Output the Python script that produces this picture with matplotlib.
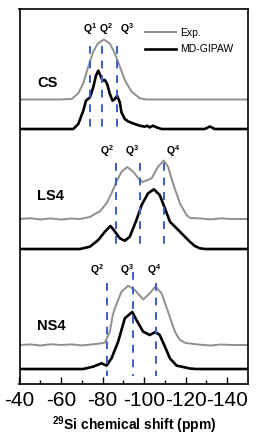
import matplotlib
matplotlib.use("Agg")
import matplotlib.pyplot as plt
import numpy as np

plt.rcParams['font.family'] = ['Liberation Sans', 'DejaVu Sans']
plt.rcParams['axes.unicode_minus'] = False
plt.rcParams['mathtext.fontset'] = 'custom'
plt.rcParams['mathtext.rm'] = 'Liberation Sans'
plt.rcParams['mathtext.bf'] = 'Liberation Sans:bold'
plt.rcParams['mathtext.it'] = 'Liberation Sans:italic'

# ---------------- data (ppm, intensity) ----------------
samples = ["CS", "LS4", "NS4"]

cs_exp_ppm = [-40, -59.5, -65.1, -68.3, -70.7, -73.1, -75.5, -77.7, -80.6, -83.5, -85.9, -88.3,
              -90.7, -93.9, -97.9, -101.2, -104.2, -150]
cs_exp_int = [0, 0, 0.5, 6.2, 16.2, 32.8, 47.8, 56, 60, 56, 46, 33, 19.5, 8, 1.2, 0, 0, 0]

cs_md_ppm = [-40, -65.9, -68.3, -70.7, -72.0, -73.9, -75.5, -76.8, -77.9, -79.0, -80.0, -81.1,
             -82.2, -83.5, -84.8, -85.9, -87.0, -88.3, -89.1, -90.7, -92.3, -94.7, -97.9,
             -100.3, -101.4, -102.7, -104.3, -106.0, -108.4, -129.2, -131.6, -134.0, -150]
cs_md_int = [0, 0, 5, 18.3, 28.3, 31.6, 41.6, 53.3, 58.3, 53.3, 48.3, 49, 45, 35, 28.3, 30,
             33.3, 26.6, 16.6, 10, 7.6, 5.6, 3.3, 2.3, 3.3, 1.6, 3.3, 1.6, 0, 0, 2.5, 0, 0]

ls4_exp_ppm = [-40, -45, -50, -55, -60, -65, -69.1, -73.9, -77.1, -78.7, -81.9, -84.3, -86.7,
               -89.1, -91.9, -94.7, -97.9, -99.4, -103.6, -106.7, -109.5, -111.5, -113.9,
               -117.2, -120.4, -122, -127, -132, -137, -142, -150]
ls4_exp_int = [0, 0.8, -0.5, 0.6, -0.6, 0.5, 0, 2, 6, 7.5, 15.7, 25.7, 37.3, 47.3, 52, 47.3,
               39, 37, 40.7, 52.3, 58.5, 52.3, 35.7, 15.7, 4, 1, 0.6, -0.4, 0.7, 0, 0]

ls4_md_ppm = [-40, -69.1, -73.9, -77.9, -81.1, -83.8, -85.4, -88.3, -90.7, -93.1, -96.3, -98.8,
              -101.9, -104.7, -107.5, -110.0, -112.4, -115.6, -118.8, -122.0, -124.4, -126.8,
              -129.2, -150]
ls4_md_int = [0, 0, 2.3, 9, 17.3, 23, 19, 10.7, 8.3, 12.3, 29, 44, 55.7, 59.7, 54, 40.7, 27.3,
              20.7, 14, 7.3, 3, 0.7, 0, 0]

ns4_exp_ppm = [-40, -45, -50, -55, -60, -65, -70, -75, -78.7, -81.1, -83.5, -84.9, -85.9, -89.1,
               -92.3, -95.5, -99.6, -102.7, -105.4, -108.4, -111.5, -114.8, -117.2, -120.0,
               -122, -127, -132, -137, -142, -150]
ns4_exp_int = [0, 0.6, -0.5, 0.7, 0, 0.6, -0.4, 0.6, 1.5, 2.3, 13.3, 30, 36.7, 53.3, 59.3, 55,
               45.5, 51.7, 58.5, 51.7, 33.3, 13.3, 5, 2, 1.5, 0.3, -0.5, 0.5, 0, 0]

ns4_md_ppm = [-40, -70.7, -75.5, -79.5, -81.9, -84.3, -87.5, -90.7, -94.3, -96.3, -99.5, -102.7,
              -105.4, -107.5, -110.0, -112.4, -115.6, -118.8, -122.0, -124.9, -150]
ns4_md_int = [0, 0, 2.4, 5.7, 3.4, 10.7, 27.4, 50.7, 57, 49, 37.4, 34, 37, 34, 22.4, 10.7, 3.4,
              2, 0.5, 0, 0]

# Q-site positions (ppm) and labels
cs_q_ppm = [-73.9, -79.5, -87.0]
cs_q_lab = ["1", "2", "3"]
ls4_q_ppm = [-86.4, -98.0, -109.6]
ls4_q_lab = ["2", "3", "4"]
ns4_q_ppm = [-81.9, -94.7, -105.5]
ns4_q_lab = ["2", "3", "4"]

xticks = [-40, -60, -80, -100, -120, -140]

# ---------------- layout ----------------
fig = plt.figure(figsize=(2.6, 4.4), dpi=100)
ax = fig.add_axes([19.5 / 260, 1 - 384 / 440, 228.5 / 260, 374.5 / 440])
ax.set_xlim(-40, -150)
ax.set_ylim(0, 374.5)

gray = '#8f8f8f'
blue = '#3d5cc4'

panels = [
    (cs_exp_ppm, cs_exp_int, cs_md_ppm, cs_md_int, 284.5, 255, cs_q_ppm, cs_q_lab,
     [-73.9, -81.6, -91.7], 355, (338, 254), [338, 338, 338]),
    (ls4_exp_ppm, ls4_exp_int, ls4_md_ppm, ls4_md_int, 165, 135, ls4_q_ppm, ls4_q_lab,
     [-82.1, -94.1, -113.8], 233, (221, 134), [221, 221, 221]),
    (ns4_exp_ppm, ns4_exp_int, ns4_md_ppm, ns4_md_int, 39, 15, ns4_q_ppm, ns4_q_lab,
     [-77.3, -91.7, -104.7], 114, (101, 8), [101, 112, 101]),
]
name_y = [301, 188, 58]

for i, (ep, ei, mp, mi, eoff, moff, qp, ql, qx, qy, (y0, y1), tops) in enumerate(panels):
    l1, = ax.plot(ep, np.array(ei) + eoff, color=gray, lw=1.4, solid_joinstyle='round')
    l2, = ax.plot(mp, np.array(mi) + moff, color='black', lw=1.9, solid_joinstyle='round')
    for x, t in zip(qp, tops):
        ax.plot([x, x], [t, y1], color=blue, lw=1.4, ls=(0, (4, 3.5)))
    for x, lab in zip(qx, ql):
        ax.text(x, qy, r'$\mathbf{Q^{%s}}$' % lab, ha='center', va='center', fontsize=7.5)
    ax.text(-48.5, name_y[i], samples[i], fontsize=10.5, fontweight='bold', ha='left', va='center')
    if i == 0:
        h_exp, h_md = l1, l2

ax.legend([h_exp, h_md], ["Exp.", "MD-GIPAW"], loc='upper left',
          bbox_to_anchor=(0.53, 0.963), frameon=False, fontsize=7.5,
          handlelength=3.0, handletextpad=0.4, labelspacing=0.65, borderaxespad=0)

ax.set_xticks(xticks)
ax.set_xticks(np.arange(-50, -150, -20), minor=True)
ax.set_xticklabels([str(t) for t in xticks])
ax.tick_params(axis='x', which='major', direction='in', length=5, width=1, labelsize=15, pad=5,
               top=False)
ax.tick_params(axis='x', which='minor', direction='in', length=3, width=1, top=False)
ax.set_yticks([])
for s in ax.spines.values():
    s.set_linewidth(1.2)

ax.set_xlabel(r'$\mathbf{^{29}}$Si chemical shift (ppm)', fontsize=10, fontweight='bold',
              labelpad=3)

fig.savefig('out.png', dpi=100)
